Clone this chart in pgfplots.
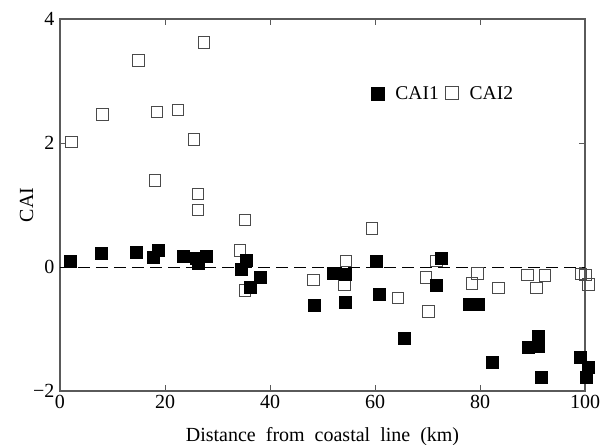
\documentclass[border=0pt]{standalone}
\usepackage{pgfplots}
\pgfplotsset{compat=1.18}
\usepackage{fontspec}
\setmainfont{Liberation Serif}

\pgfplotstableread{
x y
2.2 2.02
8.1 2.46
14.9 3.33
18.5 2.50
22.5 2.53
25.5 2.06
27.4 3.62
18.1 1.40
26.3 1.18
26.3 0.92
35.2 0.76
34.3 0.27
35.2 -0.38
48.3 -0.21
54.5 0.10
54.2 -0.29
59.4 0.62
64.4 -0.50
69.7 -0.17
70.2 -0.72
71.7 0.10
79.5 -0.10
78.5 -0.27
83.5 -0.34
89.0 -0.13
92.4 -0.14
90.8 -0.34
99.2 -0.11
100.1 -0.13
100.6 -0.28
}\caitwo

\pgfplotstableread{
x y
2.0 0.09
7.9 0.22
14.5 0.24
17.7 0.16
18.7 0.27
23.4 0.17
26.0 0.14
26.4 0.06
27.8 0.18
35.5 0.11
34.5 -0.04
36.2 -0.32
38.1 -0.16
48.4 -0.62
52.1 -0.10
54.4 -0.12
54.3 -0.56
60.2 0.09
60.8 -0.44
65.5 -1.15
71.7 -0.30
72.7 0.14
77.9 -0.60
79.6 -0.60
82.3 -1.54
89.2 -1.29
91.0 -1.27
91.1 -1.11
91.7 -1.78
99.0 -1.45
100.6 -1.62
100.3 -1.78
}\caione

\definecolor{frame}{HTML}{5A5A5A}
\definecolor{opengray}{HTML}{4A4A4A}

\begin{document}
\begin{tikzpicture}
\begin{axis}[
  at={(0,0)}, anchor=south west,
  scale only axis,
  width=525bp, height=372bp,
  xmin=0, xmax=100, ymin=-2, ymax=4,
  xtick={0,20,40,60,80,100},
  ytick={-2,0,2,4},
  yticklabels={−2,0,2,4},
  tick align=inside,
  major tick length=6bp,
  tick style={frame, line width=1bp},
  axis line style={frame, line width=1.1bp},
  /pgf/number format/assume math mode=true,
  tick label style={font=\fontsize{20bp}{22bp}\selectfont},
  xticklabel style={yshift=-1bp},
  yticklabel style={xshift=-2bp},
  xlabel={Distance\ \ from\ \ coastal\ \ line\ \ (km)},
  ylabel={CAI},
  label style={font=\fontsize{20bp}{22bp}\selectfont},
  xlabel style={yshift=-12bp},
  ylabel style={yshift=-7bp},
  legend columns=-1,
  reverse legend,
  legend style={draw=none, fill=none, at={(0.73,0.80)}, anchor=center,
    font=\fontsize{19.5bp}{21bp}\selectfont,
    /tikz/every even column/.append style={column sep=5bp},
    /tikz/every odd column/.append style={column sep=9bp}},
  legend image code/.code={\draw[#1, mark size=6.5bp] plot coordinates {(0.22cm,0cm)};},
  clip=false,
]
\addplot[black, dash pattern=on 12bp off 6bp, line width=0.9bp, forget plot] coordinates {(0,0) (100,0)};
\addplot[only marks, mark=square, mark size=5.8bp, mark options={draw=opengray, line width=0.9bp, fill=white}] table {\caitwo};
\addlegendentry{CAI2}
\addplot[only marks, mark=square*, mark size=6bp, mark options={draw=black, fill=black}] table {\caione};
\addlegendentry{CAI1}
\end{axis}
\pgfresetboundingbox
\path[use as bounding box] (-60bp,-54bp) rectangle (546bp,391bp);
\end{tikzpicture}
\end{document}
